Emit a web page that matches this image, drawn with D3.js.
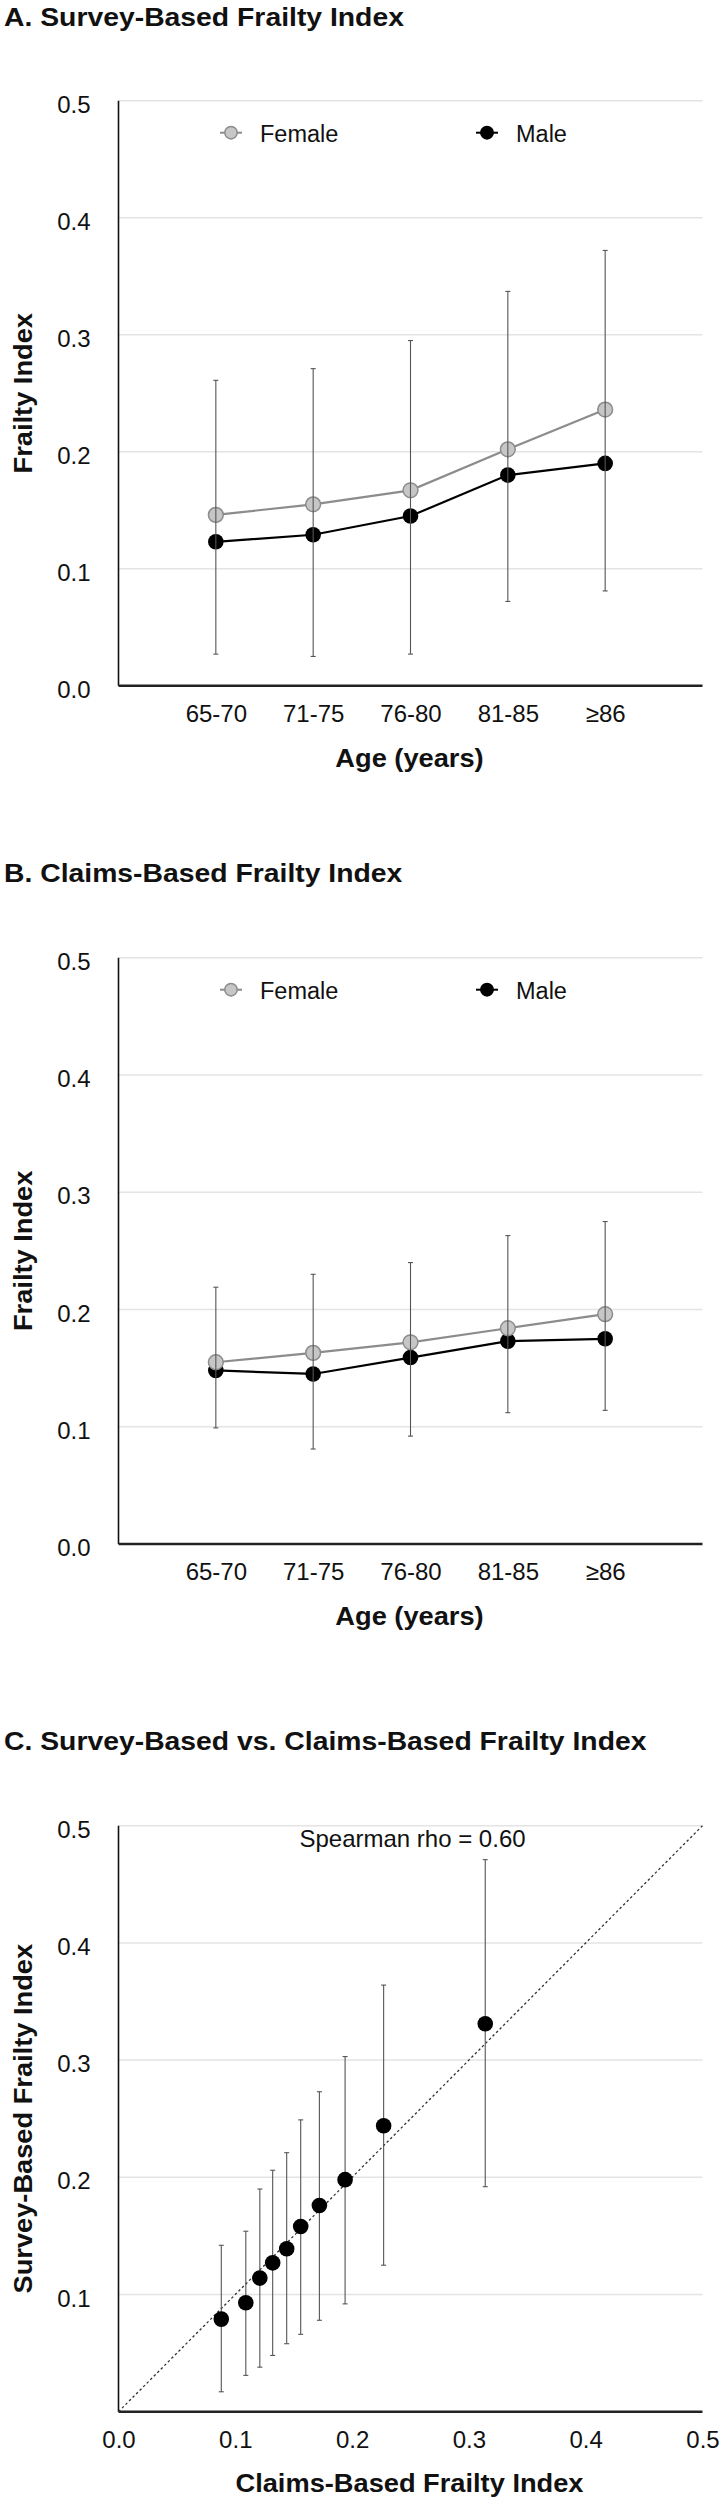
<!DOCTYPE html>
<html><head><meta charset="utf-8">
<script src="https://cdn.jsdelivr.net/npm/d3@7"></script>
<style>
body{margin:0;background:#fff;}
svg{display:block;font-family:"Liberation Sans",Arial,Helvetica,sans-serif;}
</style></head><body>
<svg id="chart" width="723" height="2503"></svg>
<script>
// ---- data ----
const ageGroups = ["65-70","71-75","76-80","81-85","≥86"];
const yTickValues = [0,0.1,0.2,0.3,0.4,0.5];
const yTickLabels = ["0.0","0.1","0.2","0.3","0.4","0.5"];
const seriesNames = ["Female","Male"];
// A. survey-based
const surveyFemale = [0.146,0.155,0.167,0.202,0.236];
const surveyMale   = [0.123,0.129,0.145,0.180,0.190];
const surveyFemaleUpper = [0.261,0.271,0.295,0.337,0.372];
const surveyMaleLower   = [0.027,0.025,0.027,0.072,0.081];
// B. claims-based
const claimsFemale = [0.155,0.163,0.172,0.184,0.196];
const claimsMale   = [0.148,0.145,0.159,0.173,0.175];
const claimsFemaleUpper = [0.219,0.230,0.240,0.263,0.275];
const claimsMaleLower   = [0.099,0.081,0.092,0.112,0.114];
// C. survey vs claims
const claimsX    = [0.088,0.109,0.121,0.132,0.144,0.156,0.172,0.194,0.227,0.314];
const surveyY    = [0.079,0.093,0.114,0.127,0.139,0.158,0.176,0.198,0.244,0.331];
const surveyLow  = [0.017,0.031,0.038,0.048,0.058,0.066,0.078,0.092,0.125,0.192];
const surveyHigh = [0.142,0.154,0.190,0.206,0.221,0.249,0.273,0.303,0.364,0.471];
const rhoText = "Spearman rho = 0.60";

// ---- layout ----
const svg = d3.select("#chart");
const L = 118.5, R = 702.5;
const fmt = d => yTickLabels[yTickValues.indexOf(d)] ?? d3.format(".1f")(d);
const GRID = "#e4e4e4", FEM_LINE = "#8c8c8c", FEM_FILL = "#c6c6c6", ERR = "#555";
const BOLD_SX = 1.09;

function frame(g, y, top, bottom, gridVals, yLabelVals){
  g.append("g").selectAll("line").data(gridVals).join("line")
    .attr("x1", L).attr("x2", R).attr("y1", d=>y(d)).attr("y2", d=>y(d))
    .attr("stroke", GRID).attr("stroke-width", 1.5);
  const ya = g.append("g").attr("transform",`translate(${L},0)`)
    .call(d3.axisLeft(y).tickValues(yLabelVals).tickSize(0).tickPadding(28).tickFormat(fmt));
  ya.select(".domain").remove();
  ya.selectAll("text").attr("font-size",24).attr("fill","#111").attr("font-family",null).attr("dy","0.48em");
  g.append("line").attr("x1",L).attr("x2",L).attr("y1",top).attr("y2",bottom)
    .attr("stroke","#111").attr("stroke-width",1.6);
  g.append("line").attr("x1",L).attr("x2",R).attr("y1",bottom).attr("y2",bottom)
    .attr("stroke","#222").attr("stroke-width",2.4);
}

function boldText(x, y, text, size, anchor, rot){
  svg.append("text")
    .attr("transform",`translate(${x},${y})${rot?` rotate(${rot})`:""} scale(${BOLD_SX},1)`)
    .attr("text-anchor",anchor).attr("font-size",size).attr("font-weight","bold")
    .attr("fill","#111").text(text);
}
function title(text, yBase){ boldText(4, yBase, text, 26, "start"); }
function yTitle(text, cy){ boldText(32, cy, text, 25, "middle", -90); }
function xTitle(text, yBase){ boldText((L+R)/2 - 1, yBase, text, 25, "middle"); }

function linePanel(top, bottom, fem, male, femUp, maleLo, titleText, titleBase){
  const g = svg.append("g");
  const y = d3.scaleLinear().domain([0,0.5]).range([bottom, top]);
  const x = d3.scalePoint().domain(ageGroups).range([L,R]).padding(1);
  title(titleText, titleBase);
  frame(g, y, top, bottom, yTickValues.slice(1), yTickValues);
  const xa = g.append("g").attr("transform",`translate(0,${bottom})`)
    .call(d3.axisBottom(x).tickSize(0).tickPadding(19));
  xa.select(".domain").remove();
  xa.selectAll("text").attr("font-size",24).attr("fill","#111").attr("font-family",null);
  // legend
  const ly = top + 32;
  const leg = [{name:seriesNames[0], x:231, fill:FEM_FILL, stroke:FEM_LINE},
               {name:seriesNames[1], x:487, fill:"#000", stroke:"#000"}];
  leg.forEach(d=>{
    g.append("line").attr("x1",d.x-11).attr("x2",d.x+11).attr("y1",ly).attr("y2",ly)
      .attr("stroke",d.stroke).attr("stroke-width",2);
    g.append("circle").attr("cx",d.x).attr("cy",ly).attr("r",6.2).attr("fill",d.fill)
      .attr("stroke",d.stroke).attr("stroke-width",1.5);
    g.append("text").attr("x",d.x+29).attr("y",top+41).attr("font-size",23.5).attr("fill","#111").text(d.name);
  });
  const line = d3.line().x((d,i)=>x(ageGroups[i])).y(d=>y(d));
  // male
  g.append("path").datum(male).attr("d",line).attr("fill","none").attr("stroke","#000").attr("stroke-width",2.2);
  g.append("g").selectAll("circle").data(male).join("circle")
    .attr("cx",(d,i)=>x(ageGroups[i])).attr("cy",d=>y(d)).attr("r",7.8).attr("fill","#000");
  // female
  g.append("path").datum(fem).attr("d",line).attr("fill","none").attr("stroke",FEM_LINE).attr("stroke-width",2.2);
  g.append("g").selectAll("circle").data(fem).join("circle")
    .attr("cx",(d,i)=>x(ageGroups[i])).attr("cy",d=>y(d)).attr("r",7.4).attr("fill",FEM_FILL)
    .attr("stroke",FEM_LINE).attr("stroke-width",1.5);
  // error bars
  const eb = g.append("g").attr("stroke",ERR).attr("stroke-width",1.1);
  ageGroups.forEach((a,i)=>{
    const cx = x(a);
    eb.append("line").attr("x1",cx).attr("x2",cx).attr("y1",y(maleLo[i])).attr("y2",y(femUp[i]));
    eb.append("line").attr("x1",cx-2.5).attr("x2",cx+2.5).attr("y1",y(maleLo[i])).attr("y2",y(maleLo[i]));
    eb.append("line").attr("x1",cx-2.5).attr("x2",cx+2.5).attr("y1",y(femUp[i])).attr("y2",y(femUp[i]));
  });
  yTitle("Frailty Index", (top+bottom)/2);
}

linePanel(100.7, 685.7, surveyFemale, surveyMale, surveyFemaleUpper, surveyMaleLower, "A. Survey-Based Frailty Index", 25.5);
xTitle("Age (years)", 767);
linePanel(957.7, 1544, claimsFemale, claimsMale, claimsFemaleUpper, claimsMaleLower, "B. Claims-Based Frailty Index", 882);
xTitle("Age (years)", 1625);

// Panel C
(function(){
  const top = 1825.7, bottom = 2411.7;
  const g = svg.append("g");
  const y = d3.scaleLinear().domain([0,0.5]).range([bottom, top]);
  const x = d3.scaleLinear().domain([0,0.5]).range([L,R]);
  title("C. Survey-Based vs. Claims-Based Frailty Index", 1750);
  frame(g, y, top, bottom, yTickValues.slice(1), yTickValues.slice(1));
  const xa = g.append("g").attr("transform",`translate(0,${bottom})`)
    .call(d3.axisBottom(x).tickValues(yTickValues).tickSize(0).tickPadding(19).tickFormat(fmt));
  xa.select(".domain").remove();
  xa.selectAll("text").attr("font-size",24).attr("fill","#111").attr("font-family",null);
  g.append("line").attr("x1",x(0)).attr("y1",y(0)).attr("x2",x(0.5)).attr("y2",y(0.5))
    .attr("stroke","#333").attr("stroke-width",1.3).attr("stroke-dasharray","2.5,2.5");
  g.append("text").attr("x",412.5).attr("y",1846.5).attr("text-anchor","middle").attr("font-size",24)
    .attr("fill","#111").text(rhoText);
  const eb = g.append("g").attr("stroke",ERR).attr("stroke-width",1.1);
  claimsX.forEach((cxv,i)=>{
    const cx = x(cxv);
    eb.append("line").attr("x1",cx).attr("x2",cx).attr("y1",y(surveyLow[i])).attr("y2",y(surveyHigh[i]));
    eb.append("line").attr("x1",cx-2.5).attr("x2",cx+2.5).attr("y1",y(surveyLow[i])).attr("y2",y(surveyLow[i]));
    eb.append("line").attr("x1",cx-2.5).attr("x2",cx+2.5).attr("y1",y(surveyHigh[i])).attr("y2",y(surveyHigh[i]));
  });
  g.append("g").selectAll("circle").data(claimsX).join("circle")
    .attr("cx",d=>x(d)).attr("cy",(d,i)=>y(surveyY[i])).attr("r",7.8).attr("fill","#000");
  yTitle("Survey-Based Frailty Index", (top+bottom)/2);
  xTitle("Claims-Based Frailty Index", 2492);
})();
</script></body></html>
